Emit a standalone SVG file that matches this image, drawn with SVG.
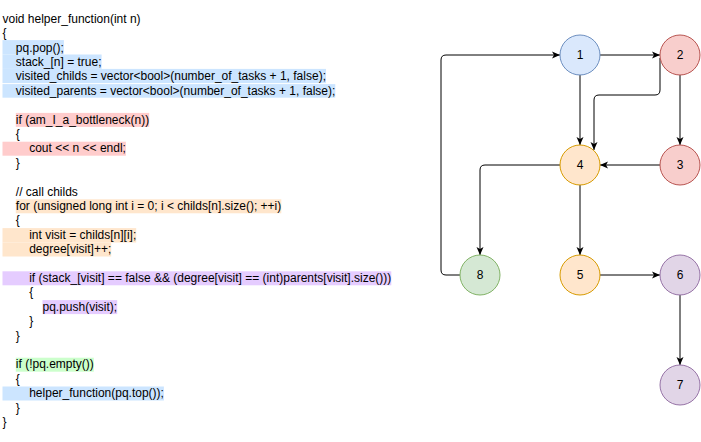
<svg xmlns="http://www.w3.org/2000/svg" width="701" height="442" viewBox="0 0 701 442">
<defs>
<style>
.code{font-family:"Liberation Sans",Arial,sans-serif;font-size:12px;fill:#000;white-space:pre}
.lbl{font-family:"Liberation Sans",Arial,sans-serif;font-size:12px;fill:#000;text-anchor:middle;dominant-baseline:central}
.e{fill:none;stroke:#000;stroke-width:1}
.hb{fill:#cce5ff}.hr{fill:#ffcccc}.ho{fill:#ffe6cc}.hp{fill:#e5ccff}.hg{fill:#ccffcc}
.nb{fill:#dae8fc;stroke:#6c8ebf}.nr{fill:#f8cecc;stroke:#b85450}.no{fill:#ffe6cc;stroke:#d79b00}.ng{fill:#d5e8d4;stroke:#82b366}.np{fill:#e1d5e7;stroke:#9673a6}
</style>
<marker id="arr" markerWidth="10" markerHeight="10" refX="9" refY="5" orient="auto" markerUnits="userSpaceOnUse">
<path d="M1,1.5 L9,5 L1,8.5 L3,5 Z" fill="#000"/>
</marker>
</defs>
<rect width="701" height="442" fill="#fff"/>
<g id="code">
<g id="highlights">
<rect class="hb" x="2.5" y="40.1" width="61.4" height="14.4"/>
<rect class="hb" x="2.5" y="54.5" width="99.1" height="14.4"/>
<rect class="hb" x="2.5" y="68.9" width="323.5" height="14.2"/>
<rect class="hb" x="2.5" y="84.1" width="332.8" height="13.6"/>
<rect class="hr" x="15.8" y="112.9" width="133.4" height="14"/>
<rect class="hr" x="2.5" y="141.7" width="123.4" height="14"/>
<rect class="ho" x="15.8" y="199.3" width="265.5" height="14"/>
<rect class="ho" x="2.5" y="228.1" width="133.7" height="14.4"/>
<rect class="ho" x="2.5" y="242.5" width="108.7" height="14"/>
<rect class="hp" x="2.5" y="271.3" width="388.8" height="14"/>
<rect class="hp" x="42.5" y="300.1" width="74.7" height="14"/>
<rect class="hg" x="15.8" y="357.7" width="78" height="14"/>
<rect class="hb" x="2.5" y="386.5" width="161.4" height="14"/>
</g>
<text class="code" x="2.5" y="22.7">void helper_function(int n)</text>
<text class="code" x="2.5" y="37.1">{</text>
<text class="code" x="15.8" y="51.5">pq.pop();</text>
<text class="code" x="15.8" y="65.9">stack_[n] = true;</text>
<text class="code" x="15.8" y="80.3">visited_childs = vector&lt;bool&gt;(number_of_tasks + 1, false);</text>
<text class="code" x="15.8" y="94.7">visited_parents = vector&lt;bool&gt;(number_of_tasks + 1, false);</text>
<text class="code" x="15.8" y="123.5">if (am_I_a_bottleneck(n))</text>
<text class="code" x="15.8" y="137.9">{</text>
<text class="code" x="29.2" y="152.3">cout &lt;&lt; n &lt;&lt; endl;</text>
<text class="code" x="15.8" y="166.7">}</text>
<text class="code" x="15.8" y="195.5">// call childs</text>
<text class="code" x="15.8" y="209.9">for (unsigned long int i = 0; i &lt; childs[n].size(); ++i)</text>
<text class="code" x="15.8" y="224.3">{</text>
<text class="code" x="29.2" y="238.7">int visit = childs[n][i];</text>
<text class="code" x="29.2" y="253.1">degree[visit]++;</text>
<text class="code" x="29.2" y="281.9">if (stack_[visit] == false &amp;&amp; (degree[visit] == (int)parents[visit].size()))</text>
<text class="code" x="29.2" y="296.3">{</text>
<text class="code" x="42.5" y="310.7">pq.push(visit);</text>
<text class="code" x="29.2" y="325.1">}</text>
<text class="code" x="15.8" y="339.5">}</text>
<text class="code" x="15.8" y="368.3">if (!pq.empty())</text>
<text class="code" x="15.8" y="382.7">{</text>
<text class="code" x="29.2" y="397.1">helper_function(pq.top());</text>
<text class="code" x="15.8" y="411.5">}</text>
<text class="code" x="2.5" y="425.9">}</text>
</g>
<g id="connectors">
<path id="e1-2" class="e" d="M600,55 L660,55" marker-end="url(#arr)"/>
<path id="e1-4" class="e" d="M580,75 L580,145" marker-end="url(#arr)"/>
<path id="e2-4" class="e" d="M660,58 L660,90 Q660,95 655,95 L599,95 Q594,95 594,100 L594,150" marker-end="url(#arr)"/>
<path id="e2-3" class="e" d="M680,75 L680,145" marker-end="url(#arr)"/>
<path id="e3-4" class="e" d="M660,165 L600,165" marker-end="url(#arr)"/>
<path id="e4-8" class="e" d="M560,165 L485,165 Q480,165 480,170 L480,255" marker-end="url(#arr)"/>
<path id="e4-5" class="e" d="M580,185 L580,255" marker-end="url(#arr)"/>
<path id="e5-6" class="e" d="M600,275 L660,275" marker-end="url(#arr)"/>
<path id="e6-7" class="e" d="M680,295 L680,365" marker-end="url(#arr)"/>
<path id="e8-1" class="e" d="M460,275 L446,275 Q441,275 441,270 L441,60 Q441,55 446,55 L560,55" marker-end="url(#arr)"/>
</g>
<g id="n1"><circle class="nb" cx="580" cy="55" r="20"/><text class="lbl" x="580" y="55">1</text></g>
<g id="n2"><circle class="nr" cx="680" cy="55" r="20"/><text class="lbl" x="680" y="55">2</text></g>
<g id="n3"><circle class="nr" cx="680" cy="165" r="20"/><text class="lbl" x="680" y="165">3</text></g>
<g id="n4"><circle class="no" cx="580" cy="165" r="20"/><text class="lbl" x="580" y="165">4</text></g>
<g id="n5"><circle class="no" cx="580" cy="275" r="20"/><text class="lbl" x="580" y="275">5</text></g>
<g id="n6"><circle class="np" cx="680" cy="275" r="20"/><text class="lbl" x="680" y="275">6</text></g>
<g id="n7"><circle class="np" cx="680" cy="385" r="20"/><text class="lbl" x="680" y="385">7</text></g>
<g id="n8"><circle class="ng" cx="480" cy="275" r="20"/><text class="lbl" x="480" y="275">8</text></g>
</svg>
